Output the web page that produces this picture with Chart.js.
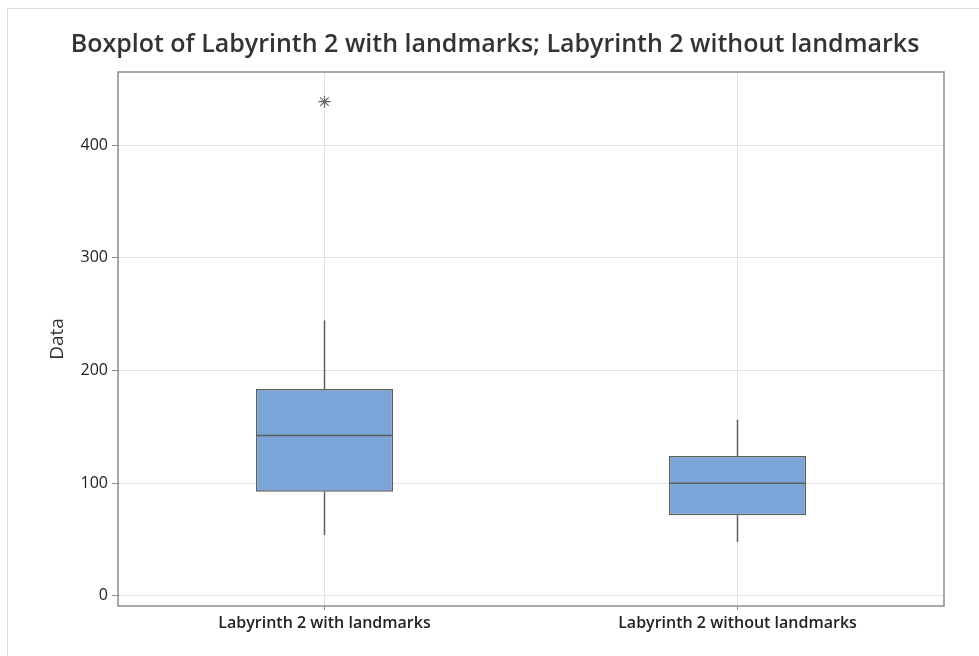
<!DOCTYPE html>
<html>
<head>
<meta charset="utf-8">
<script src="https://cdn.jsdelivr.net/npm/chart.js@4.4.1/dist/chart.umd.min.js"></script>
<style>
  html, body { margin: 0; padding: 0; background: #fff; }
  #wrap { position: relative; width: 979px; height: 656px; }
  #frame { position: absolute; left: 7px; top: 8px; right: 0; bottom: 0;
           border-top: 1px solid #dcdcdc; border-left: 1px solid #dcdcdc; pointer-events: none; }
  canvas { position: absolute; left: 0; top: 0; }
</style>
</head>
<body>
<div id="wrap">
  <canvas id="c" width="979" height="656"></canvas>
  <div id="frame"></div>
</div>
<script>
// Groups and five-number summaries
const categories = ['Labyrinth 2 with landmarks', 'Labyrinth 2 without landmarks'];
const whiskerLow = [53.7, 47.9];
const q1 = [92.5, 71.5];
const medians = [142.4, 99.9];
const q3 = [183.6, 124.2];
const whiskerHigh = [244.4, 156.4];
const outliers = [438.7, null];
const yTicks = [0, 100, 200, 300, 400];

const boxFill = '#7ba5d8';
const lineColor = '#5e5e5e';
const fontFamily = '"Open Sans", "Noto Sans", sans-serif';

// Whiskers, median lines and the outer frame of the plot area
const boxExtras = {
  id: 'boxExtras',
  afterDatasetsDraw(chart) {
    const { ctx, scales: { x, y } } = chart;
    const meta = chart.getDatasetMeta(0);
    ctx.save();
    ctx.strokeStyle = lineColor;
    ctx.lineWidth = 1.5;
    categories.forEach((_, i) => {
      const bar = meta.data[i];
      const cx = x.getPixelForValue(i);
      ctx.beginPath();
      ctx.moveTo(cx, y.getPixelForValue(whiskerHigh[i]));
      ctx.lineTo(cx, y.getPixelForValue(q3[i]));
      ctx.moveTo(cx, y.getPixelForValue(q1[i]));
      ctx.lineTo(cx, y.getPixelForValue(whiskerLow[i]));
      ctx.stroke();
      const half = bar.width / 2;
      const my = y.getPixelForValue(medians[i]);
      ctx.beginPath();
      ctx.moveTo(bar.x - half, my);
      ctx.lineTo(bar.x + half, my);
      ctx.stroke();
    });
    ctx.restore();
  },
  afterDraw(chart) {
    const { ctx, chartArea: a } = chart;
    ctx.save();
    ctx.strokeStyle = '#8c8c8c';
    ctx.lineWidth = 1.5;
    ctx.strokeRect(a.left, a.top, a.right - a.left, a.bottom - a.top);
    ctx.restore();
  }
};

new Chart(document.getElementById('c'), {
  data: {
    labels: categories,
    datasets: [
      {
        type: 'bar',
        data: categories.map((_, i) => [q1[i], q3[i]]),
        backgroundColor: boxFill,
        borderColor: lineColor,
        borderWidth: 1.5,
        borderSkipped: false,
        barPercentage: 0.332,
        categoryPercentage: 1,
        order: 2
      },
      {
        type: 'line',
        data: outliers,
        showLine: false,
        pointStyle: 'star',
        pointRadius: 6,
        pointBorderWidth: 1.3,
        pointBorderColor: '#6a6a6a',
        pointBackgroundColor: '#6a6a6a',
        order: 1
      }
    ]
  },
  plugins: [boxExtras],
  options: {
    responsive: false,
    animation: false,
    layout: { padding: { left: 46, right: 35, top: 0, bottom: 0 } },
    plugins: {
      legend: { display: false },
      tooltip: { enabled: false },
      title: {
        display: true,
        text: 'Boxplot of Labyrinth 2 with landmarks; Labyrinth 2 without landmarks',
        color: '#333333',
        font: { family: fontFamily, size: 25, weight: '600' },
        padding: { top: 30, bottom: 12 }
      }
    },
    scales: {
      x: {
        type: 'category',
        offset: true,
        grid: { offset: false, color: '#e2e2e2', lineWidth: 1, tickLength: 4, tickColor: '#8c8c8c' },
        border: { display: false },
        ticks: { color: '#222', font: { family: fontFamily, size: 16, weight: '600' }, padding: 4 },
        afterFit(s) { s.height = 50; }
      },
      y: {
        type: 'linear',
        min: -9,
        max: 465,
        grid: { color: '#e2e2e2', lineWidth: 1, tickLength: 6, tickColor: '#8c8c8c' },
        border: { display: false },
        afterBuildTicks(s) { s.ticks = yTicks.map(v => ({ value: v })); },
        ticks: { color: '#222', font: { family: fontFamily, size: 16, weight: '500' }, padding: 4 },
        title: {
          display: true,
          text: 'Data',
          color: '#333',
          font: { family: fontFamily, size: 19 },
          padding: { top: 0, bottom: 0 }
        },
        afterFit(s) { s.width = 72; }
      }
    }
  }
});
</script>
</body>
</html>
